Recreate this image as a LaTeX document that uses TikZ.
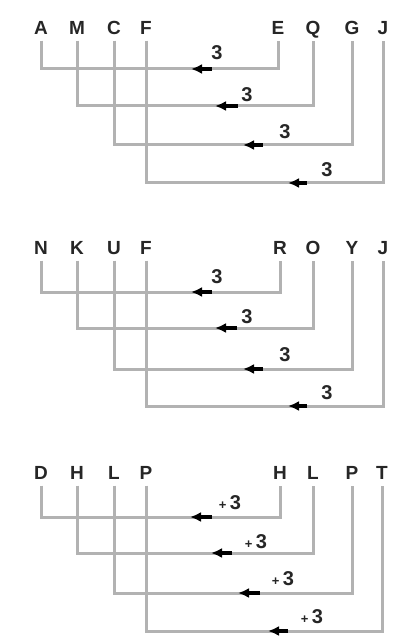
\documentclass[tikz,border=0pt]{standalone}
\usepackage{fontspec}
\setmainfont{Liberation Sans}
\usetikzlibrary{arrows.meta}
\begin{document}
\begin{tikzpicture}[x=1pt,y=-1pt,
  letter/.style={font=\fontsize{19}{19}\selectfont\bfseries, text=black!85, inner xsep=0pt, inner ysep=6pt, text height=13pt, text depth=0pt},
  num/.style={font=\fontsize{20}{20}\selectfont\bfseries, text=black!85, inner sep=0pt},
  link/.style={draw=gray!60, line width=3pt},
  tipline/.style={draw=black, line width=4pt, -{Latex[length=11pt,width=10pt]}, shorten >=-2pt}
]
\useasboundingbox (0,0) rectangle (403,644);
\fill[white] (0,0) rectangle (403,644);

% panel 1
\foreach \n/\t/\x in {a1/A/41, a2/M/77, a3/C/114, a4/F/146, b1/E/278, b2/Q/313, b3/G/352, b4/J/383}
  \node[letter] (p1\n) at (\x,28) {\t};
\foreach \i/\y in {1/69, 2/106, 3/145, 4/183}
  \coordinate (p1h\i) at (0,\y);
% panel 2
\foreach \n/\t/\x in {a1/N/41, a2/K/77, a3/U/114, a4/F/146, b1/R/280, b2/O/313, b3/Y/352, b4/J/383}
  \node[letter] (p2\n) at (\x,248) {\t};
\foreach \i/\y in {1/292, 2/328, 3/369, 4/406}
  \coordinate (p2h\i) at (0,\y);
% panel 3
\foreach \n/\t/\x in {a1/D/41, a2/H/77, a3/L/114, a4/P/146, b1/H/280, b2/L/313, b3/P/352, b4/T/382}
  \node[letter] (p3\n) at (\x,473) {\t};
\foreach \i/\y in {1/517, 2/553, 3/593, 4/631}
  \coordinate (p3h\i) at (0,\y);

% connectors
\foreach \p in {1,2,3}{
  \foreach \i in {4,3,2,1}{
    \draw[link] (p\p a\i.south) -- (p\p a\i.south |- p\p h\i) -| (p\p b\i.south);
  }
}

% arrow tips and labels panel 1
\foreach \i/\xr/\xl/\y/\lx/\ly in {1/212/193/69/217/53, 2/238/217/106/247/95, 3/263/245/145/285/132, 4/307/290/183/327/170}{
  \draw[tipline] (\xr,\y) -- (\xl,\y);
  \node[num] (p1l\i) at (\lx,\ly) {3};
}
% panel 2
\foreach \i/\xr/\xl/\y/\lx/\ly in {1/212/193/292/217/277, 2/237/217/328/247/317, 3/263/245/369/285/355, 4/307/290/406/327/393}{
  \draw[tipline] (\xr,\y) -- (\xl,\y);
  \node[num] (p2l\i) at (\lx,\ly) {3};
}
% panel 3
\foreach \i/\xr/\xl/\y/\lx/\ly in {1/212/192/517/230/503, 2/232/213/553/256/542, 3/260/240/593/283/579, 4/288/270/631/312/617}{
  \draw[tipline] (\xr,\y) -- (\xl,\y);
  \node[num] (p3l\i) at (\lx,\ly) {{\fontsize{13}{13}\selectfont+}\,3};
}
\end{tikzpicture}
\end{document}
